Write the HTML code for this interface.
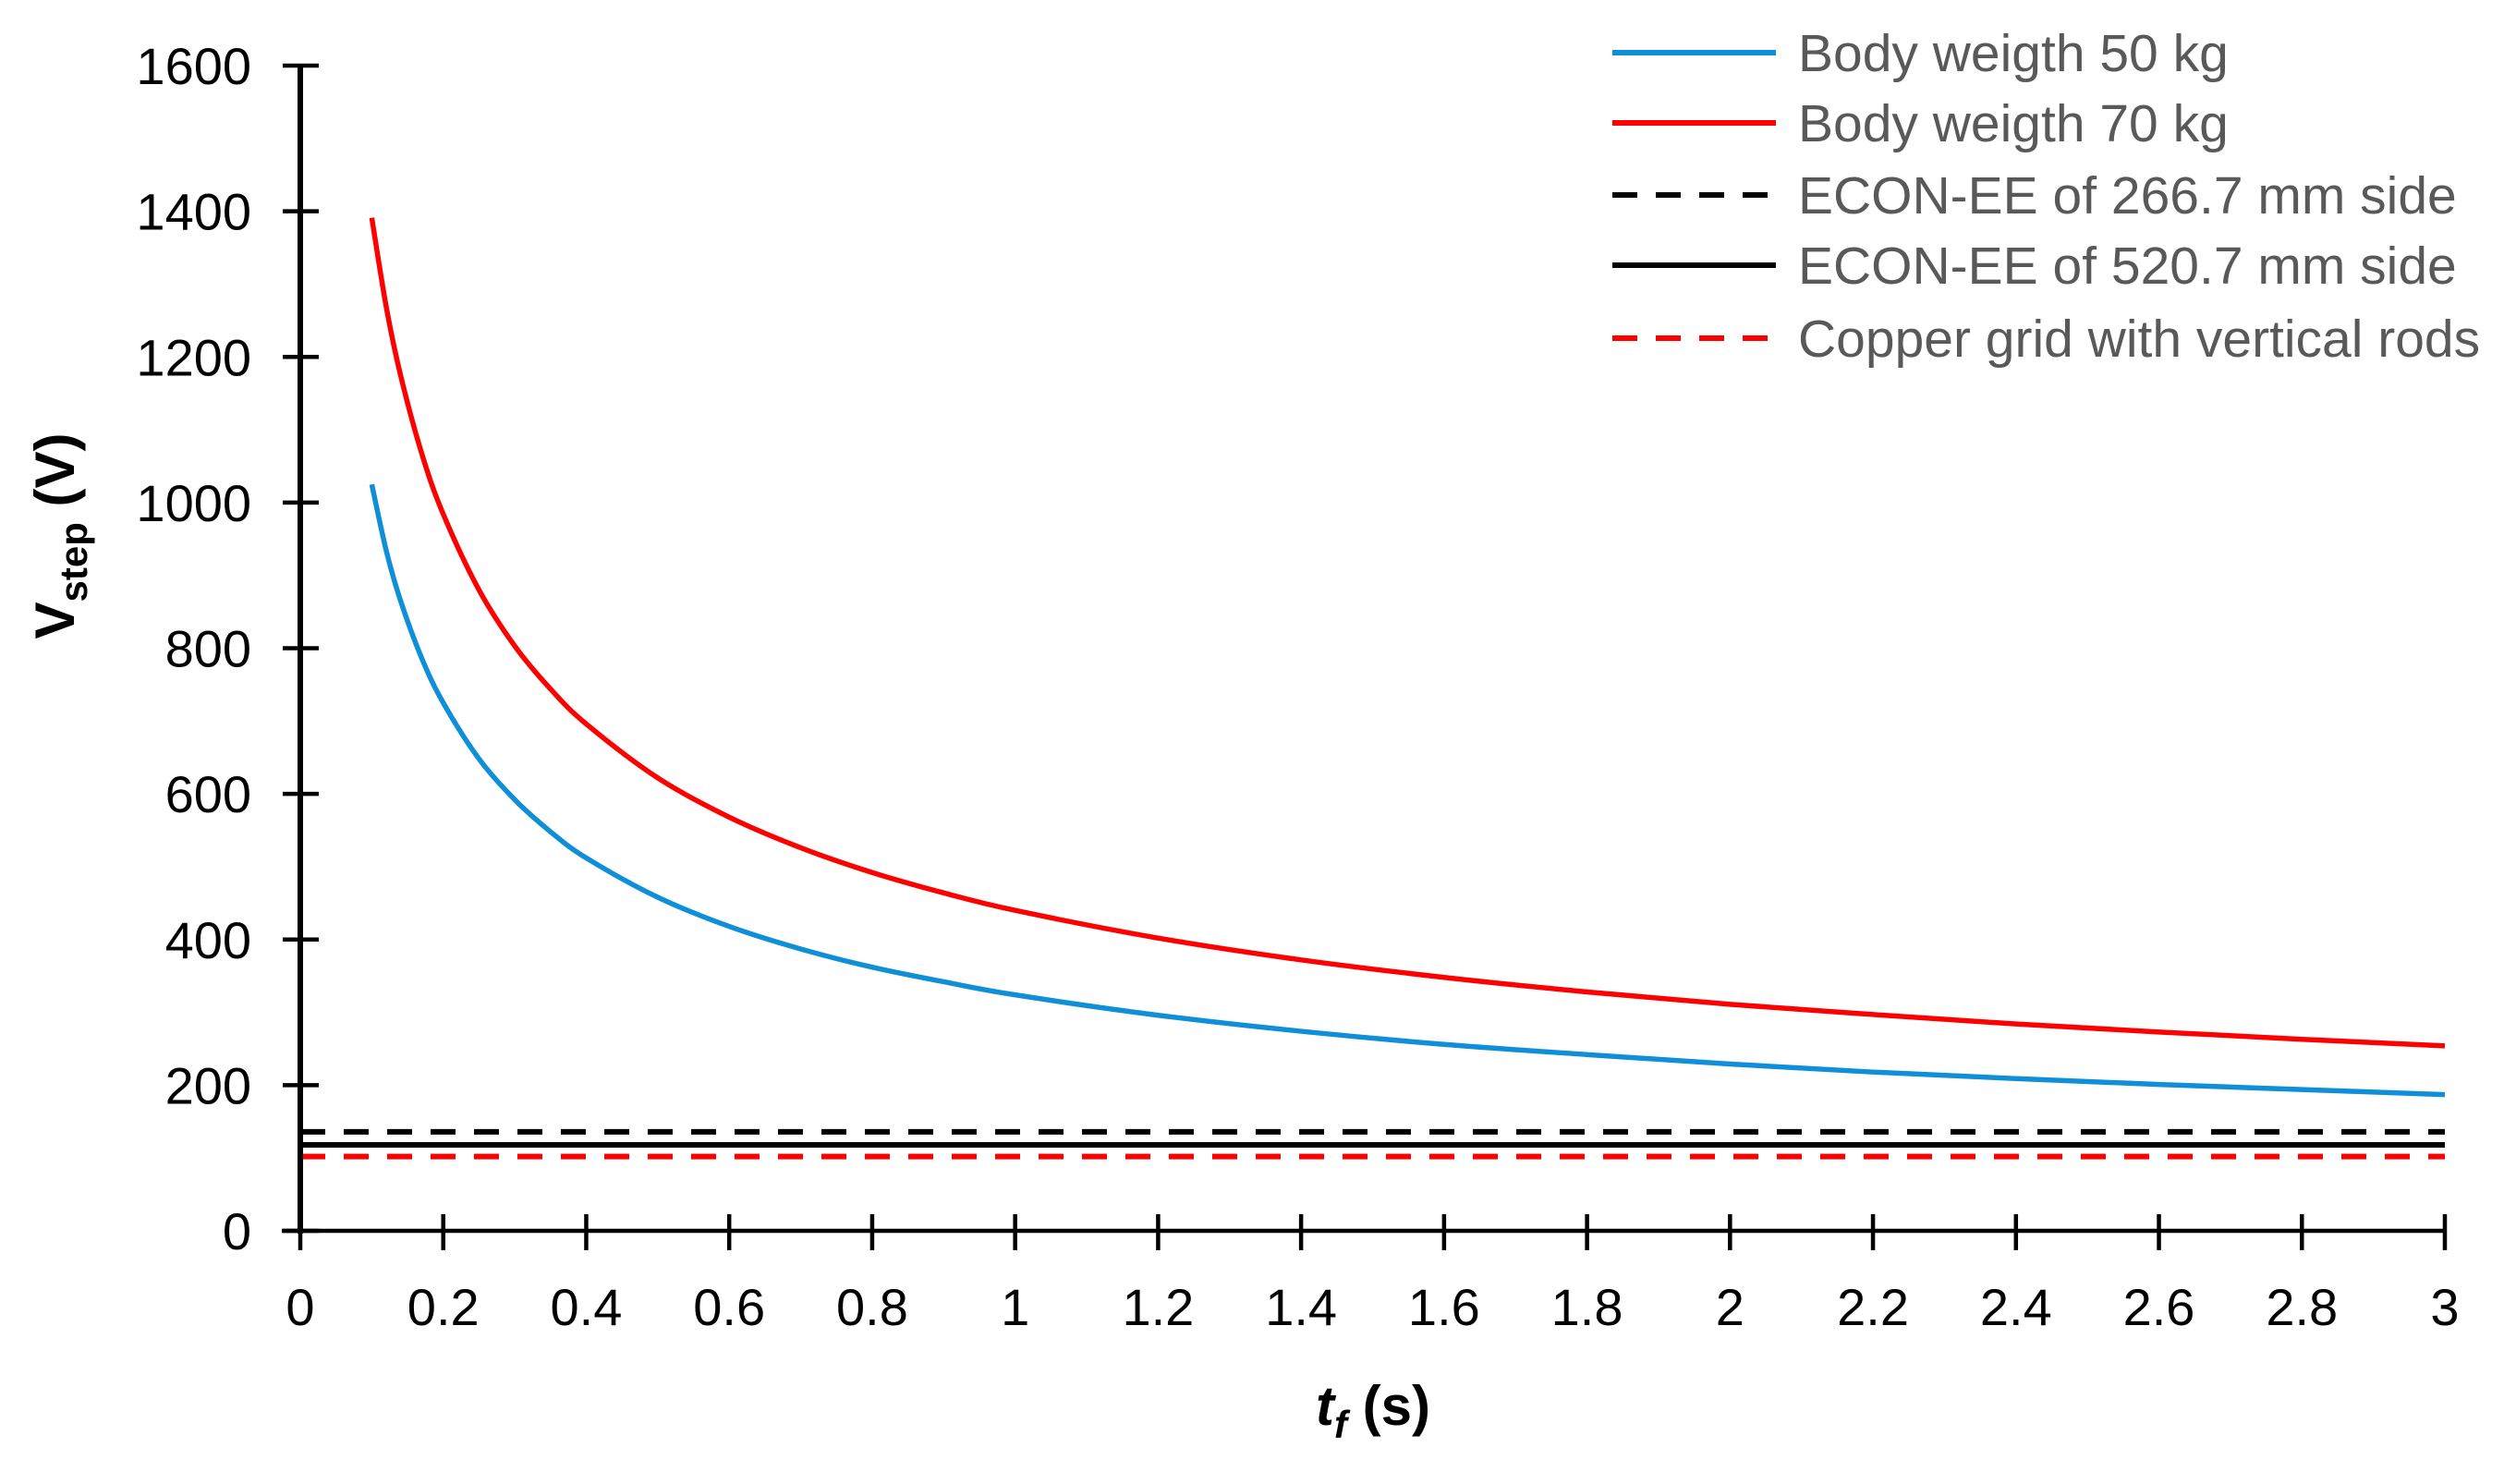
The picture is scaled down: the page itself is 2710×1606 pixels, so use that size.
<!DOCTYPE html>
<html><head><meta charset="utf-8">
<style>
html,body{margin:0;padding:0;background:#fff;}
svg{display:block;font-family:"Liberation Sans",sans-serif;}
</style></head>
<body>
<svg id="chart" width="2710" height="1606" viewBox="0 0 2710 1606" xmlns="http://www.w3.org/2000/svg">
<g id="plot"></g>
<g id="axes"></g>
<g id="legend"></g>
<text transform="translate(80,580) rotate(-90)" text-anchor="middle" font-size="60" font-weight="bold" fill="#000">V<tspan font-size="42" dy="14">step</tspan><tspan dy="-14"> (V)</tspan></text>
<text x="1486" y="1542" text-anchor="middle" font-size="60" font-weight="bold" fill="#000"><tspan font-style="italic">t</tspan><tspan font-style="italic" font-size="42" dy="14">f</tspan><tspan dy="-14"> (s)</tspan></text>
</svg>
<script>
const tValues = [0.1,0.12,0.14,0.17,0.2,0.25,0.3,0.35,0.4,0.5,0.6,0.7,0.8,0.9,1,1.2,1.4,1.6,1.8,2,2.2,2.4,2.6,2.8,3];
const blueValues = [1025,935,866,786,725,648,592,548,512,458,418,387,362,342,324,296,274,256,242,229,218,209,201,194,187];
const redValues = [1391,1270,1176,1067,984,880,803,744,696,622,568,526,492,464,440,402,372,348,328,311,297,284,273,263,254];
const econ266 = 136;
const econ520 = 118;
const copperGrid = 102;
const xTicks = [0,0.2,0.4,0.6,0.8,1,1.2,1.4,1.6,1.8,2,2.2,2.4,2.6,2.8,3];
const xTickLabels = ["0","0.2","0.4","0.6","0.8","1","1.2","1.4","1.6","1.8","2","2.2","2.4","2.6","2.8","3"];
const yTicks = [0,200,400,600,800,1000,1200,1400,1600];
const legendLabels = ["Body weigth 50 kg","Body weigth 70 kg","ECON-EE of 266.7 mm side","ECON-EE of 520.7 mm side","Copper grid with vertical rods"];

const NS="http://www.w3.org/2000/svg";
const X0=325,X1=2646,Y0=1332,Y1=71;
const xs=v=>X0+(v-0)/(3-0)*(X1-X0);
const ys=v=>Y0-(v/1600)*(Y0-Y1);
function mk(tag,attrs,parent){const e=document.createElementNS(NS,tag);for(const k in attrs)e.setAttribute(k,attrs[k]);parent.appendChild(e);return e;}
const plot=document.getElementById('plot'),axes=document.getElementById('axes'),legend=document.getElementById('legend');

function smoothPath(xsArr,ysArr){
  const p=xsArr.map((x,i)=>[xs(x),ys(ysArr[i])]);
  let d=`M${p[0][0]},${p[0][1]}`;
  for(let i=0;i<p.length-1;i++){
    const p0=p[i-1]||p[i],p1=p[i],p2=p[i+1],p3=p[i+2]||p2;
    const c1=[p1[0]+(p2[0]-p0[0])/6,p1[1]+(p2[1]-p0[1])/6];
    const c2=[p2[0]-(p3[0]-p1[0])/6,p2[1]-(p3[1]-p1[1])/6];
    d+=` C${c1[0]},${c1[1]} ${c2[0]},${c2[1]} ${p2[0]},${p2[1]}`;
  }
  return d;
}
let h;
h=mk('line',{x1:xs(0),x2:xs(3),y1:ys(econ266),y2:ys(econ266),stroke:'#000','stroke-width':6,'stroke-dasharray':'27 20'},plot);


h=mk('line',{x1:xs(0),x2:xs(3),y1:ys(econ520),y2:ys(econ520),stroke:'#000','stroke-width':6},plot);


h=mk('line',{x1:xs(0),x2:xs(3),y1:ys(copperGrid),y2:ys(copperGrid),stroke:'#ff0000','stroke-width':6,'stroke-dasharray':'27 20'},plot);


let c;
c=mk('path',{d:smoothPath(tValues,blueValues),fill:'none',stroke:'#0f8fd8','stroke-width':5.5},plot);


c=mk('path',{d:smoothPath(tValues,redValues),fill:'none',stroke:'#ff0000','stroke-width':5.5},plot);



let a=mk('line',{x1:X0,x2:X0,y1:Y1-2,y2:Y0+3,stroke:'#000','stroke-width':6},axes);


a=mk('line',{x1:X0-20,x2:X1+2,y1:Y0,y2:Y0,stroke:'#000','stroke-width':4.5},axes);


yTicks.forEach(v=>{
  const t=mk('line',{x1:306,x2:345,y1:ys(v),y2:ys(v),stroke:'#000','stroke-width':4.5},axes);
  
  
  const l=mk('text',{x:272,y:ys(v)+20,'text-anchor':'end','font-size':56,fill:'#000'},axes);
  l.textContent=String(v);
  
  
});
xTicks.forEach((v,i)=>{
  const t=mk('line',{x1:xs(v),x2:xs(v),y1:Y0-18,y2:Y0+21,stroke:'#000','stroke-width':4.5},axes);
  
  
  const l=mk('text',{x:xs(v),y:1434,'text-anchor':'middle','font-size':56,fill:'#000'},axes);
  l.textContent=xTickLabels[i];
  
  
});

const legStyles=[{s:'#0f8fd8',d:''},{s:'#ff0000',d:''},{s:'#000',d:'27 20'},{s:'#000',d:''},{s:'#ff0000',d:'27 20'}];
const legY=[57,133,211,287,366];
legendLabels.forEach((lab,i)=>{
  const g=mk('g',{},legend);
  
  
  const attrs={x1:1745,x2:1922,y1:legY[i],y2:legY[i],stroke:legStyles[i].s,'stroke-width':6};
  if(legStyles[i].d)attrs['stroke-dasharray']=legStyles[i].d;
  mk('line',attrs,g);
  const t=mk('text',{x:1946,y:legY[i]+20,'font-size':57,fill:'#595959',textLength:0},g);
  t.removeAttribute('textLength');
  t.textContent=lab;
});
</script>
</body></html>
